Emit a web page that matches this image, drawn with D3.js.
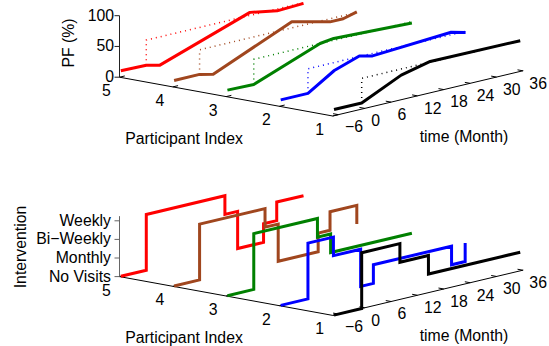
<!DOCTYPE html>
<html>
<head>
<meta charset="utf-8">
<script src="https://cdn.jsdelivr.net/npm/d3@7/dist/d3.min.js"></script>
<style>
  body { margin: 0; background: #fff; }
  text { font-family: "Liberation Sans", Arial, Helvetica, sans-serif; font-size: 15.8px; fill: #000; }
</style>
</head>
<body>
<svg id="chart" width="549" height="346"></svg>
<script>
// ---- data ----
const participants = [5, 4, 3, 2, 1];
const lineColors = ['#ff0000', '#a0461e', '#008000', '#0000ff', '#000000'];
const timeTicks = [-6, 0, 6, 12, 18, 24, 30, 36];
const participantTicks = [5, 4, 3, 2, 1];
const pfTicks = [0, 50, 100];
const levelTicks = [0, 1, 2, 3];
const levelLabels = ['No Visits', 'Monthly', 'Bi\u2212Weekly', 'Weekly'];

// PF (%) measurements, one row per participant (5..1)
const pfMonths = [
  [-7, -1.2, 1.9, 22.4, 28.6, 34.6],
  [-7, -1.2, 1.9, 19.8, 28.5, 31.5, 34.6],
  [-7, -1.0, 14.1, 17.2, 35],
  [-7, -0.8, 5.2, 10.9, 13.9, 31.8, 35.1],
  [-7, -0.7, 8.3, 14.9, 35.4]
];
const pfValues = [
  [10, 9, 4, 55, 47, 49],
  [10, 10, 5, 60, 45, 45, 51],
  [10, 9, 50, 53, 48],
  [10, 10, 37, 51, 46, 54, 48],
  [10, 10, 40, 51, 50]
];
const pfTarget = [50, 50, 50, 50, 50];

// intervention level at each visit (0 = no visits ... 3 = weekly)
const visitMonths = [
  [-7, -1.2, 16.7, 19.6, 25.5, 28.5, 34.6],
  [-7, -1.2, 13.7, 16.7, 25.8, 28.5, 34.6],
  [-7, -1.0, 13.5, 16.5, 35],
  [-7, -0.8, 5.0, 11.2, 14.1, 31.9, 35.0],
  [-7, -0.7, 8.0, 14.5, 35.4]
];
const visitLevels = [
  [0, 3, 2, 0, 1, 2, 2],
  [0, 3, 2, 0, 1, 2, 1],
  [0, 3, 2, 1, 1],
  [0, 3, 2, 0, 1, 0, 1],
  [0, 3, 2, 1, 1]
];

// ---- 3D-ish projection (matlab view) ----
const svg = d3.select('#chart');
const tDomain = [-7.3, 36.1];
const tScale = d3.scaleLinear().domain(tDomain).range([0, 1]);
const pScale = d3.scaleLinear().domain([1, 5]).range([0, 1]);
const tVec = [190.6, -45.3];   // screen vector of the whole time axis
const pVec = [-213.2, -38.8];  // screen vector from participant 1 to 5

const makePanel = (originY, zScale) => (t, p, z) => {
  const u = tScale(t), v = pScale(p);
  return [332.7 + tVec[0] * u + pVec[0] * v,
          originY + tVec[1] * u + pVec[1] * v - zScale(z)];
};

const drawAxes = (proj, zTicks, zFormat, zMax, zColor, labelGap) => {
  const g = svg.append('g');
  const t0 = tDomain[0], t1 = tDomain[1];
  const seg = (a, b, color) => g.append('line')
    .attr('x1', a[0]).attr('y1', a[1]).attr('x2', b[0]).attr('y2', b[1])
    .attr('stroke', color || '#000').attr('stroke-width', 1);

  seg(proj(t0, 5, 0), proj(t0, 1, 0));
  seg(proj(t0, 1, 0), proj(t1, 1, 0));
  seg(proj(t0, 5, 0), proj(t0, 5, zMax), zColor);

  // time ticks
  timeTicks.forEach(d => {
    const a = proj(d, 1, 0);
    seg(a, proj(d, 1.1, 0));
    g.append('text')
      .attr('x', a[0] + 6.5).attr('y', a[1] + 12.3).attr('dy', '0.35em')
      .text(d < 0 ? '\u2212' + Math.abs(d) : d);
  });
  // participant ticks
  participantTicks.forEach(d => {
    const a = proj(t0, d, 0);
    seg(a, proj(t0 + 1.2, d, 0));
    g.append('text')
      .attr('x', a[0] - 13).attr('y', a[1] + 13.5).attr('dy', '0.35em')
      .attr('text-anchor', 'middle')
      .text(d);
  });
  // vertical ticks
  zTicks.forEach((d, i) => {
    const a = proj(t0, 5, d);
    seg(a, [a[0] - 5, a[1]], zColor);
    g.append('text')
      .attr('x', a[0] - labelGap).attr('y', a[1] - 0.5).attr('dy', '0.35em')
      .attr('text-anchor', 'end')
      .text(zFormat(d, i));
  });
};

// ---- top panel: PF ----
const topProj = makePanel(116, d3.scaleLinear().domain([0, 100]).range([0, 61.5]));
drawAxes(topProj, pfTicks, d => d, 100, '#222', 5.5);

const line = d3.line();
participants.forEach((p, i) => {
  const pts = pfMonths[i].map((t, j) => topProj(t, p, pfValues[i][j]));
  svg.append('path')
    .attr('d', line(pts))
    .attr('fill', 'none')
    .attr('stroke', lineColors[i])
    .attr('stroke-width', 3)
    .attr('stroke-linejoin', 'round');

  // dotted target from the start of intervention
  const ts = pfMonths[i][1], te = pfMonths[i][pfMonths[i].length - 1];
  const dots = [topProj(ts, p, pfValues[i][1]), topProj(ts, p, pfTarget[i]), topProj(te, p, pfTarget[i])];
  svg.append('path')
    .attr('d', line(dots))
    .attr('fill', 'none')
    .attr('stroke', lineColors[i])
    .attr('stroke-width', 1.5)
    .attr('stroke-dasharray', '1,4');
});

// ---- bottom panel: intervention ----
const botProj = makePanel(315.4, d3.scaleLinear().domain([0, 3.25]).range([0, 60.45]));
drawAxes(botProj, levelTicks, (d, i) => levelLabels[i], 3.25, '#666', 8.5);

participants.forEach((p, i) => {
  const tm = visitMonths[i], lv = visitLevels[i];
  const pts = [botProj(tm[0], p, lv[0])];
  for (let j = 1; j < tm.length; j++) {
    pts.push(botProj(tm[j], p, lv[j - 1]));
    pts.push(botProj(tm[j], p, lv[j]));
  }
  svg.append('path')
    .attr('d', line(pts))
    .attr('fill', 'none')
    .attr('stroke', lineColors[i])
    .attr('stroke-width', 3)
    .attr('stroke-linejoin', 'miter');
});

// ---- axis titles ----
const title = (x, y, txt, rot) => svg.append('text')
  .attr('transform', `translate(${x},${y})` + (rot ? ' rotate(-90)' : ''))
  .attr('text-anchor', 'middle').attr('dy', '0.35em')
  .text(txt);
title(68, 43, 'PF (%)', true);
title(184, 138, 'Participant Index');
title(464, 136, 'time (Month)');
title(20, 247, 'Intervention', true);
title(184, 337, 'Participant Index');
title(464, 335, 'time (Month)');
</script>
</body>
</html>
